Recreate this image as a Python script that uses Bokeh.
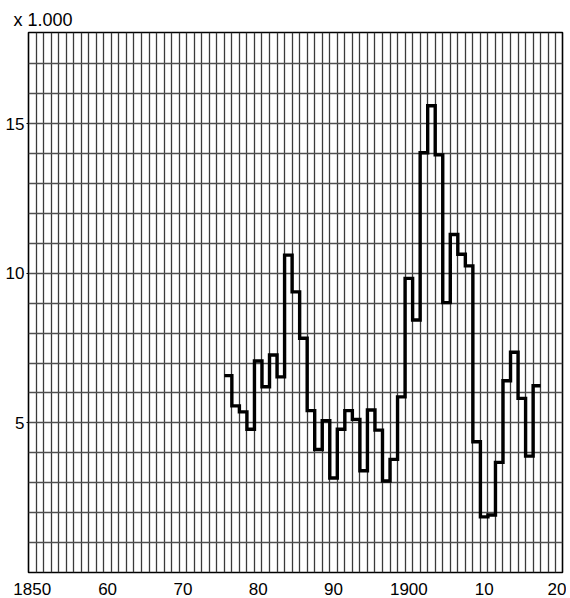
from bokeh.plotting import figure
from bokeh.models import FixedTicker
from bokeh.embed import file_html
from bokeh.resources import INLINE

# Data (values in thousands), one value per year
years = list(range(1876, 1918))
values = [6.58, 5.57, 5.37, 4.79, 7.07, 6.21, 7.27, 6.54, 10.61, 9.38,
          7.83, 5.41, 4.11, 5.07, 3.16, 4.79, 5.41, 5.12, 3.40, 5.43,
          4.76, 3.06, 3.78, 5.87, 9.83, 8.44, 14.03, 15.60, 13.96, 9.02,
          11.30, 10.64, 10.25, 4.37, 1.86, 1.92, 3.68, 6.41, 7.36, 5.82,
          3.89, 6.24]

x_ticks = [1850, 1860, 1870, 1880, 1890, 1900, 1910, 1920]
x_tick_labels = ["1850", "60", "70", "80", "90", "1900", "10", "20"]
y_ticks = [5, 10, 15]
y_tick_labels = ["5", "10", "15"]

FONT = "Liberation Sans"

p = figure(width=566, height=598, x_range=(1849.5, 1920.4), y_range=(0, 18.05),
           output_backend="svg", toolbar_location=None,
           min_border_left=28, min_border_right=4, min_border_top=32, min_border_bottom=26)

p.background_fill_color = "white"
p.border_fill_color = "white"
p.outline_line_color = "black"
p.outline_line_width = 1.6
p.outline_line_alpha = 1.0

# title "x 1.000"
p.title.text = "x 1.000"
p.title.align = "left"
p.title.offset = -15
p.title.text_font = FONT
p.title.text_font_size = "18px"
p.title.text_font_style = "normal"
p.title.text_color = "black"
p.title.standoff = 6

# grids: every year boundary, every 1 (thousand)
p.xgrid.ticker = FixedTicker(ticks=[y + 0.5 for y in range(1849, 1920)])
p.xgrid.grid_line_color = "#3a3a3a"
p.xgrid.grid_line_width = 1.3
p.ygrid.ticker = FixedTicker(ticks=list(range(1, 18)))
p.ygrid.grid_line_color = "#505050"
p.ygrid.grid_line_width = 1.6

# axes
p.xaxis.ticker = FixedTicker(ticks=x_ticks)
p.xaxis.major_label_overrides = {t: l for t, l in zip(x_ticks, x_tick_labels)}
p.xaxis.axis_line_color = None
p.xaxis.major_tick_line_color = None
p.xaxis.minor_tick_line_color = None
p.xaxis.major_label_standoff = 4
p.xaxis.major_label_text_font = FONT
p.xaxis.major_label_text_font_size = "17px"
p.xaxis.major_label_text_color = "black"

p.yaxis.ticker = FixedTicker(ticks=y_ticks)
p.yaxis.major_label_overrides = {t: l for t, l in zip(y_ticks, y_tick_labels)}
p.yaxis.axis_line_color = None
p.yaxis.major_tick_out = 2
p.yaxis.major_tick_in = 0
p.yaxis.major_tick_line_color = "black"
p.yaxis.minor_tick_line_color = None
p.yaxis.major_label_standoff = 2
p.yaxis.major_label_text_font = FONT
p.yaxis.major_label_text_font_size = "17px"
p.yaxis.major_label_text_color = "black"

# step line: each year's value spans the year cell
xs, ys = [], []
for yr, v in zip(years, values):
    xs.extend([yr - 0.5, yr + 0.5])
    ys.extend([v, v])
p.line(xs, ys, line_color="black", line_width=3.4, line_join="miter")

open("out.html", "w").write(file_html(p, INLINE))
